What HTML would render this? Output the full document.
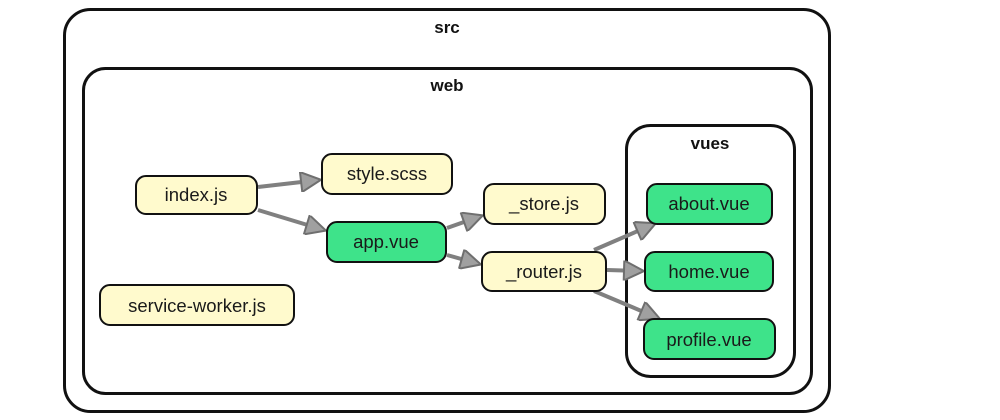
<!DOCTYPE html>
<html><head><meta charset="utf-8"><style>
html,body{margin:0;padding:0;background:#fff;}
svg{display:block;}
text{font-family:"Liberation Sans",Arial,sans-serif;}
</style></head><body>
<svg width="1000" height="420" viewBox="0 0 1000 420" xmlns="http://www.w3.org/2000/svg">
<defs>
<marker id="a" viewBox="0 0 10 10" refX="9" refY="5" markerWidth="6.5" markerHeight="5" orient="auto" markerUnits="strokeWidth">
<path d="M0,0 L10,5 L0,10 z" fill="#a0a0a0" stroke="#6f6f6f" stroke-width="1"/>
</marker>
</defs>
<rect x="64.5" y="9.5" width="765" height="402" rx="26" fill="#fff" stroke="#111" stroke-width="3"/>
<text x="447" y="33" text-anchor="middle" font-size="17" font-weight="bold" fill="#111">src</text>
<rect x="83.5" y="68.5" width="728" height="325" rx="22" fill="#fff" stroke="#111" stroke-width="3"/>
<text x="447" y="91" text-anchor="middle" font-size="17" font-weight="bold" fill="#111">web</text>
<rect x="626.5" y="125.5" width="168" height="251" rx="24" fill="#fff" stroke="#111" stroke-width="3"/>
<text x="710" y="149" text-anchor="middle" font-size="17" font-weight="bold" fill="#111">vues</text>
<g stroke="#808080" stroke-width="4" fill="none" marker-end="url(#a)">
<line x1="258" y1="187" x2="319" y2="180"/>
<line x1="258" y1="210" x2="324" y2="230"/>
<line x1="447" y1="228" x2="481" y2="216"/>
<line x1="447" y1="255" x2="479" y2="264"/>
<line x1="594" y1="250" x2="654" y2="224"/>
<line x1="607" y1="270" x2="642" y2="271"/>
<line x1="594" y1="291" x2="658" y2="318"/>
</g>
<g stroke="#111" stroke-width="2">
<rect x="136" y="176" width="121" height="38" rx="10" fill="#fffacd"/>
<rect x="322" y="154" width="130" height="40" rx="10" fill="#fffacd"/>
<rect x="327" y="222" width="119" height="40" rx="10" fill="#3ee38a"/>
<rect x="484" y="184" width="121" height="40" rx="10" fill="#fffacd"/>
<rect x="482" y="252" width="124" height="39" rx="10" fill="#fffacd"/>
<rect x="100" y="285" width="194" height="40" rx="10" fill="#fffacd"/>
<rect x="647" y="184" width="125" height="40" rx="10" fill="#3ee38a"/>
<rect x="645" y="252" width="128" height="39" rx="10" fill="#3ee38a"/>
<rect x="644" y="319" width="131" height="40" rx="10" fill="#3ee38a"/>
</g>
<g font-size="18.5" fill="#1a1a1a" text-anchor="middle">
<text x="196" y="201">index.js</text>
<text x="387" y="180">style.scss</text>
<text x="386" y="248">app.vue</text>
<text x="544" y="210">_store.js</text>
<text x="544" y="278">_router.js</text>
<text x="197" y="312">service-worker.js</text>
<text x="709" y="210">about.vue</text>
<text x="709" y="278">home.vue</text>
<text x="709" y="346">profile.vue</text>
</g>
</svg>
</body></html>
